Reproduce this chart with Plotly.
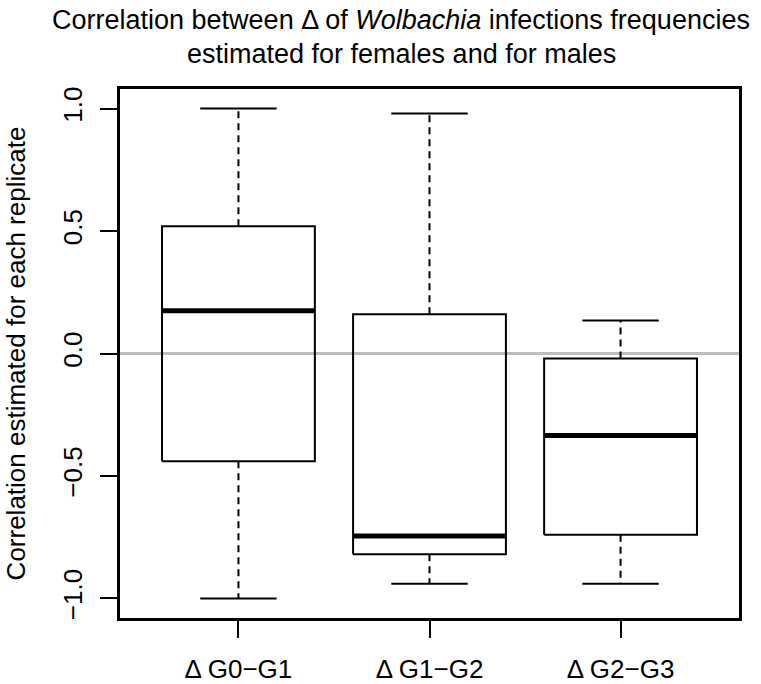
import plotly.graph_objects as go

# Five-number summaries of the per-replicate correlations
categories = ["\u0394 G0\u2212G1", "\u0394 G1\u2212G2", "\u0394 G2\u2212G3"]
whisker_low = [-1.00, -0.94, -0.94]
q1 = [-0.44, -0.82, -0.74]
median = [0.175, -0.745, -0.335]
q3 = [0.52, 0.16, -0.02]
whisker_high = [1.00, 0.98, 0.135]

FONT = "Liberation Sans, Arial, sans-serif"
BOX_HALF = 0.4
CAP_HALF = 0.2

fig = go.Figure()

# reference line at zero
fig.add_shape(type="line", xref="paper", x0=0, x1=1, yref="y", y0=0, y1=0,
              line=dict(color="#BEBEBE", width=3), layer="below")

for i, name in enumerate(categories):
    x = i + 1
    # dashed whiskers
    for y_from, y_to in ((q3[i], whisker_high[i]), (q1[i], whisker_low[i])):
        fig.add_trace(go.Scatter(x=[x, x], y=[y_from, y_to], mode="lines",
                                 line=dict(color="black", width=2, dash="7px,5px"),
                                 hoverinfo="skip", showlegend=False))
    # whisker caps
    for yv in (whisker_high[i], whisker_low[i]):
        fig.add_trace(go.Scatter(x=[x - CAP_HALF, x + CAP_HALF], y=[yv, yv], mode="lines",
                                 line=dict(color="black", width=2),
                                 hoverinfo="skip", showlegend=False))
    # box
    fig.add_trace(go.Scatter(
        x=[x - BOX_HALF, x + BOX_HALF, x + BOX_HALF, x - BOX_HALF, x - BOX_HALF],
        y=[q1[i], q1[i], q3[i], q3[i], q1[i]],
        mode="lines", line=dict(color="black", width=2),
        hoverinfo="skip", showlegend=False))
    # median
    fig.add_trace(go.Scatter(x=[x - BOX_HALF, x + BOX_HALF], y=[median[i], median[i]],
                             mode="lines", line=dict(color="black", width=5),
                             hoverinfo="skip", showlegend=False))

fig.update_layout(
    width=761, height=684,
    margin=dict(l=120, r=22, t=89, b=66),
    paper_bgcolor="white", plot_bgcolor="white",
    font=dict(family=FONT, size=26, color="black"),
    showlegend=False,
    xaxis=dict(range=[0.38, 3.62], tickvals=[1, 2, 3], ticktext=categories,
               showgrid=False, zeroline=False, showline=True, mirror=True,
               linecolor="black", linewidth=3, ticks="outside", ticklen=17,
               tickwidth=2, tickcolor="black", ticklabelstandoff=9,
               tickfont=dict(size=26), automargin=False),
    yaxis=dict(range=[-1.08, 1.08], tickvals=[-1.0, -0.5, 0.0, 0.5, 1.0],
               ticktext=["\u22121.0", "\u22120.5", "0.0", "0.5", "1.0"],
               tickangle=-90, showgrid=False, zeroline=False, showline=True,
               mirror=True, linecolor="black", linewidth=3, ticks="outside",
               ticklen=17, tickwidth=2, tickcolor="black", ticklabelstandoff=8,
               tickfont=dict(size=26), automargin=False,
               title=dict(text="Correlation estimated for each replicate",
                          font=dict(size=26), standoff=25)),
    annotations=[
        dict(text="Correlation between \u0394 of <i>Wolbachia</i> infections frequencies",
             xref="paper", yref="paper", x=0.454, y=1.13, xanchor="center",
             yanchor="middle", showarrow=False, font=dict(size=27)),
        dict(text="estimated for females and for males",
             xref="paper", yref="paper", x=0.454, y=1.066, xanchor="center",
             yanchor="middle", showarrow=False, font=dict(size=27)),
    ],
)

fig.write_html("out.html")
